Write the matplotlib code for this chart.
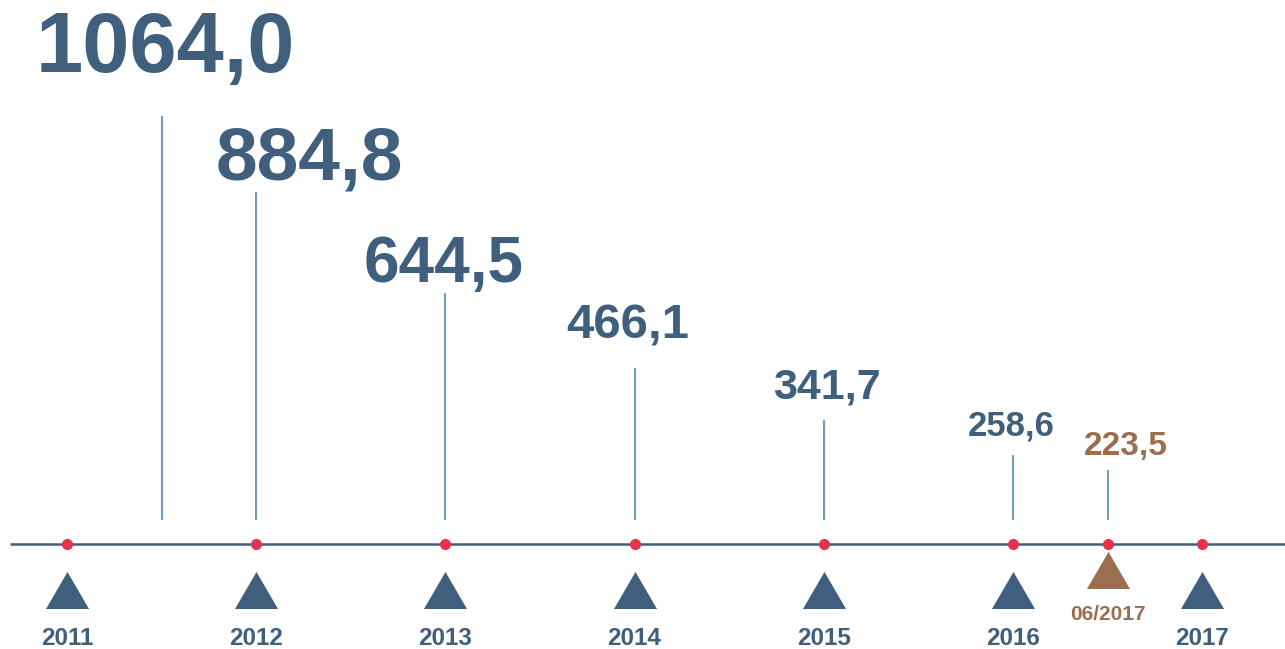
import matplotlib.pyplot as plt
from matplotlib.path import Path

# --- data ---
values = [1064.0, 884.8, 644.5, 466.1, 341.7, 258.6, 223.5]
value_labels = ["1064,0", "884,8", "644,5", "466,1", "341,7", "258,6", "223,5"]
value_pos = [2011.5, 2012, 2013, 2014, 2015, 2016, 2016.5]
years = [2011, 2012, 2013, 2014, 2015, 2016, 2017]
year_labels = ["2011", "2012", "2013", "2014", "2015", "2016", "2017"]
mid_pos = [2016.5]
mid_labels = ["06/2017"]

# --- style ---
blue = "#405f7d"
brown = "#9c6d4f"
red = "#e5334b"
stem = "#6f9fbb"
label_sizes = [61, 54, 46, 35.5, 31, 25, 24]
label_dx = [3, 38, -1, -5, 2, -1, 13]           # points
label_dy = [31.5, 8.5, 8, 21.5, 16, 14.5, 11]   # points
label_colors = [blue] * 6 + [brown]

base = 105.1     # value where the stems start
axis_y = 48.1
tri_y = -60
mid_tri_y = -13.6
year_y = -191.6
mid_y = -132.3

plt.rcParams['font.family'] = ['Liberation Sans', 'DejaVu Sans']

fig = plt.figure(figsize=(12.85, 6.49), dpi=100)
ax = fig.add_axes([0, 0, 1, 1])
ax.set_xlim(2010.646, 2017.438)
ax.set_ylim(-201, 1339.4)
ax.axis('off')

tri = Path([(-1, -0.86), (0, 0.86), (1, -0.86), (-1, -0.86)],
           [Path.MOVETO, Path.LINETO, Path.LINETO, Path.CLOSEPOLY])

# stems and labels
ax.vlines(value_pos, base, values, color=stem, lw=1.5)
for x, v, t, fs, dx, dy, c in zip(value_pos, values, value_labels,
                                  label_sizes, label_dx, label_dy, label_colors):
    ax.annotate(t, (x, v), xytext=(dx, dy), textcoords='offset points',
                ha='center', va='baseline', fontsize=fs, fontweight='bold', color=c)

# timeline
ax.hlines(axis_y, 2010.7, 2017.44, color=blue, lw=1.8, zorder=2)
ax.plot(years + mid_pos, [axis_y] * (len(years) + len(mid_pos)), 'o',
        color=red, ms=8, mec='none', zorder=3)

ax.plot(years, [tri_y] * len(years), linestyle='none', marker=tri,
        ms=31, color=blue, mec='none')
for x, t in zip(years, year_labels):
    ax.text(x, year_y, t, ha='center', va='baseline', fontsize=17.5,
            fontweight='bold', color=blue)

ax.plot(mid_pos, [mid_tri_y] * len(mid_pos), linestyle='none', marker=tri,
        ms=31, color=brown, mec='none')
for x, t in zip(mid_pos, mid_labels):
    ax.text(x, mid_y, t, ha='center', va='baseline', fontsize=15,
            fontweight='bold', color=brown)

fig.savefig("out.png", dpi=100)
